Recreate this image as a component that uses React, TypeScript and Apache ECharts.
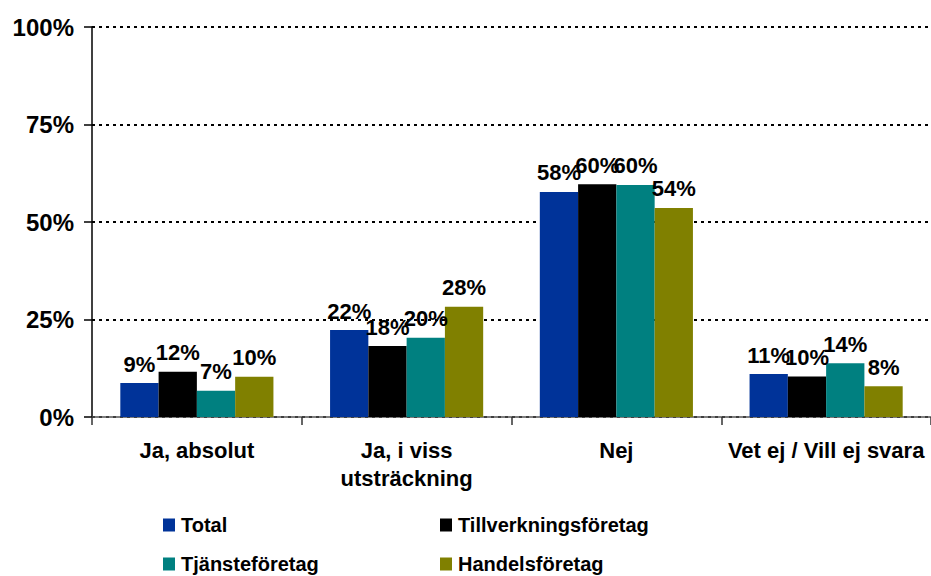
import React, { useEffect, useRef } from "react";
import * as echarts from "echarts";

const categories = ["Ja, absolut", "Ja, i viss\nutsträckning", "Nej", "Vet ej / Vill ej svara"];
const seriesNames = ["Total", "Tillverkningsföretag", "Tjänsteföretag", "Handelsföretag"];
const total = [8.7, 22.3, 57.7, 11.0];
const tillverkning = [11.6, 18.2, 59.7, 10.4];
const tjanste = [6.7, 20.3, 59.5, 13.8];
const handels = [10.3, 28.3, 53.6, 7.9];
const yTicks = [0, 25, 50, 75, 100];
const colors = ["#003399", "#000000", "#008080", "#808000"];

const FONT = "'Liberation Sans', Arial, sans-serif";

const legendPos = [
  { left: 163, top: 515 },
  { left: 440, top: 515 },
  { left: 163, top: 554 },
  { left: 440, top: 554 },
];

export default function App() {
  const ref = useRef<HTMLDivElement>(null);
  useEffect(() => {
    if (!ref.current) return;
    const chart = echarts.init(ref.current, undefined, { renderer: "svg" });
    const values = [total, tillverkning, tjanste, handels];
    chart.setOption({
      animation: false,
      backgroundColor: "#ffffff",
      textStyle: { fontFamily: FONT },
      grid: { left: 92, top: 27, right: 0, bottom: 159, containLabel: false },
      legend: seriesNames.map((name, i) => ({
        data: [name],
        left: legendPos[i].left,
        top: legendPos[i].top,
        padding: 0,
        itemWidth: 12,
        itemHeight: 13,
        itemGap: 0,
        icon: "rect",
        textStyle: { fontFamily: FONT, fontWeight: "bold", fontSize: 20, color: "#000", padding: [0, 0, 0, 1] },
      })),
      xAxis: {
        type: "category",
        data: categories,
        axisLine: { lineStyle: { color: "#555555", width: 1.5 } },
        axisTick: { show: true, length: 8, lineStyle: { color: "#333333", width: 1.5 } },
        axisLabel: {
          margin: 19,
          fontFamily: FONT,
          fontWeight: "bold",
          fontSize: 22,
          color: "#000",
          lineHeight: 28,
          interval: 0,
        },
      },
      yAxis: {
        type: "value",
        min: 0,
        max: 100,
        interval: 25,
        axisLine: { show: true, lineStyle: { color: "#000", width: 1.5 } },
        axisTick: { show: true, length: 8, lineStyle: { color: "#000", width: 1.5 } },
        axisLabel: {
          margin: 18,
          fontFamily: FONT,
          fontWeight: "bold",
          fontSize: 24,
          color: "#000",
          formatter: (v: number) => (yTicks.includes(v) ? `${v}%` : ""),
        },
        splitLine: { show: true, lineStyle: { color: "#000", width: 2, type: [3, 4] } },
      },
      series: seriesNames.map((name, i) => ({
        name,
        type: "bar",
        data: values[i],
        barGap: "0%",
        barCategoryGap: "27%",
        itemStyle: { color: colors[i] },
        label: {
          show: true,
          position: "top",
          distance: 8,
          fontFamily: FONT,
          fontWeight: "bold",
          fontSize: 22,
          color: "#000",
          formatter: (p: any) => `${Math.round(p.value)}%`,
        },
      })),
    });
    return () => chart.dispose();
  }, []);
  return (
    <div
      ref={ref}
      style={{ position: "fixed", left: 0, top: 0, width: 931, height: 576 }}
    />
  );
}
